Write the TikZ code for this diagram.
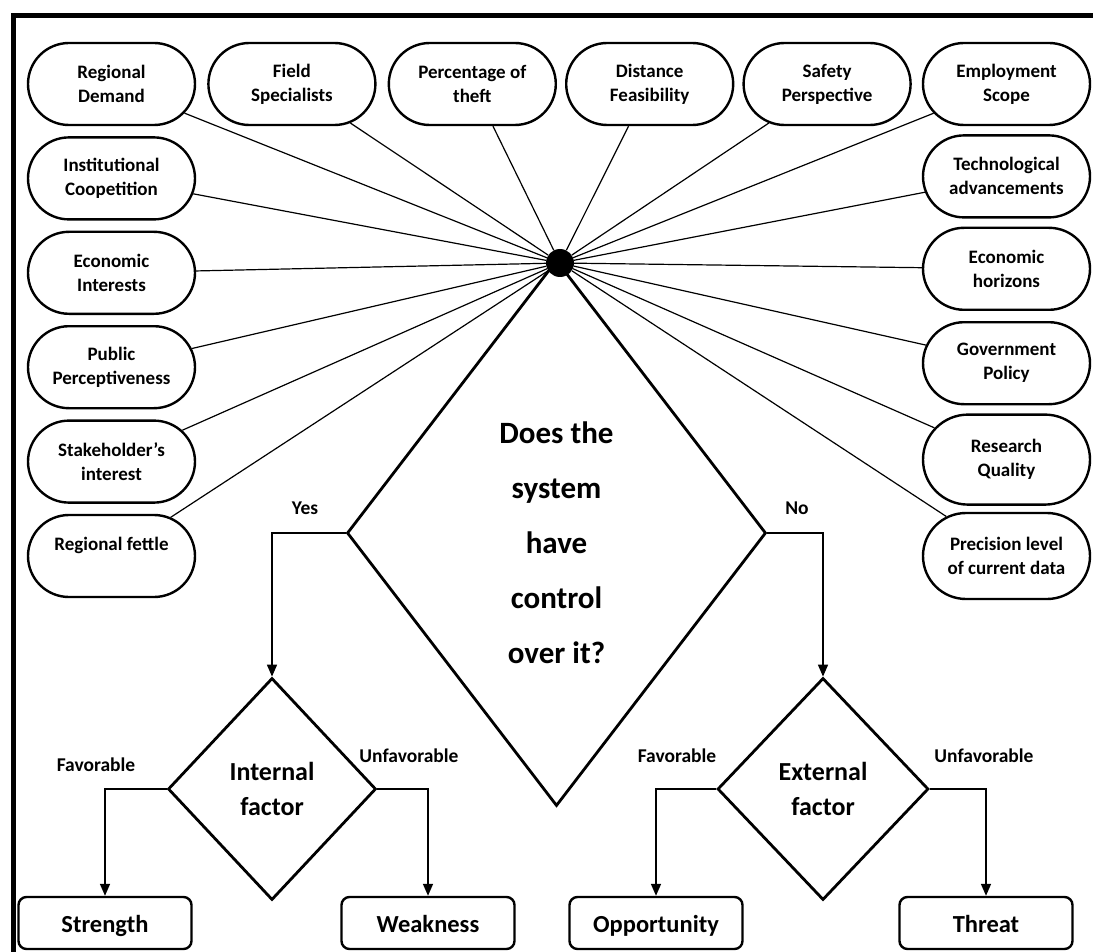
\documentclass[tikz,border=0pt]{standalone}
\usepackage{fontspec}
\setmainfont{Carlito}
\usetikzlibrary{shapes.misc,shapes.geometric,positioning,arrows.meta}

\begin{document}
\begin{tikzpicture}[x=1pt,y=-1pt,
    factor/.style={rounded rectangle,draw,line width=2.4pt,minimum width=167pt,minimum height=82pt,inner sep=0pt,align=center,font=\fontsize{19}{24}\selectfont\bfseries},
    result/.style={rectangle,rounded corners=8pt,draw,line width=2.4pt,minimum width=173pt,minimum height=52pt,text height=22pt,text depth=4pt,font=\fontsize{24.5}{28}\selectfont\bfseries},
    decision/.style={diamond,draw,line width=2.8pt,inner sep=0pt,fill=white,align=center},
    branch/.style={font=\fontsize{19.5}{22}\selectfont\bfseries},
    spoke/.style={line width=1.2pt},
    flow/.style={line width=1.6pt,-{Triangle[length=12pt,width=10pt]}}]
    \useasboundingbox (0,0) rectangle (1093,952);
    \draw[line width=5pt] (13,15.5) rectangle (1150,1000);

    % top row
    \node[factor] (demand) at (111.5,84) {Regional\\Demand};
    \node[factor] (specialists) [right=11pt of demand] {Field\\Specialists};
    \node[factor] (theft) [right=11pt of specialists] {Percentage of\\theft};
    \node[factor] (distance) [right=8pt of theft] {Distance\\Feasibility};
    \node[factor] (safety) [right=8pt of distance] {Safety\\Perspective};
    \node[factor] (employment) [right=10pt of safety] {Employment\\Scope};

    % left column
    \node[factor] (coopetition) [below=10pt of demand] {Institutional\\Coopetition};
    \node[factor] (interests) [below=10pt of coopetition] {Economic\\Interests};
    \node[factor] (public) [below=10pt of interests] {Public\\Perceptiveness};
    \node[factor] (stakeholder) [below=10pt of public] {Stakeholder’s\\interest};
    \node[factor] (fettle) [below=10pt of stakeholder] {Regional fettle\\~};

    % right column
    \node[factor] (technology) [below=8pt of employment] {Technological\\advancements};
    \node[factor] (horizons) [below=8pt of technology] {Economic\\horizons};
    \node[factor] (policy) [below=10pt of horizons] {Government\\Policy};
    \node[factor,minimum height=90pt] (research) [below=8pt of policy] {Research\\Quality};
    \node[factor,minimum height=86pt] (precision) [below=6pt of research] {Precision level\\of current data};

    % decisions
    \node[decision,minimum width=419pt,minimum height=546pt,font=\fontsize{31}{55}\selectfont\bfseries] (control) at (556.5,533) {\rule{0pt}{42pt}Does the\\system\\have\\control\\over it?};
    \node[decision,minimum width=208pt,minimum height=222pt,font=\fontsize{26}{35}\selectfont\bfseries] (internal) at (272,789) {Internal\\factor};
    \node[decision,minimum width=211pt,minimum height=222pt,font=\fontsize{26}{35}\selectfont\bfseries] (external) at (823,789) {External\\factor};

    \node[circle,fill,inner sep=0pt,minimum size=28pt] (hub) at (560,263) {};
    \foreach \f in {demand,specialists,theft,distance,safety,employment,coopetition,interests,public,stakeholder,fettle,technology,horizons,policy,research,precision}
        \draw[spoke] (\f) -- (hub);

    % outcomes
    \node[result] (strength) at (105,923) {Strength};
    \node[result] (weakness) at (428,923) {Weakness};
    \node[result] (opportunity) at (656,923) {Opportunity};
    \node[result] (threat) at (986,923) {Threat};

    \draw[flow] (control.west) -| (internal.north);
    \draw[flow] (control.east) -| (external.north);
    \draw[flow] (internal.west) -| (strength.north);
    \draw[flow] (internal.east) -| (weakness.north);
    \draw[flow] (external.west) -| (opportunity.north);
    \draw[flow] (external.east) -| (threat.north);

    \node[branch] (yes) at (305,508) {Yes};
    \node[branch] (no) at (797,508) {No};
    \node[branch] (favint) at (96,765) {Favorable};
    \node[branch] (unfavint) at (409,756) {Unfavorable};
    \node[branch] (favext) at (677,756) {Favorable};
    \node[branch] (unfavext) at (984,756) {Unfavorable};
\end{tikzpicture}
\end{document}
